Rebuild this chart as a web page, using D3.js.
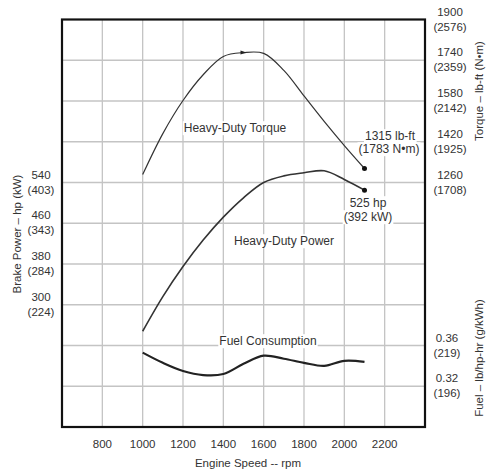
<!DOCTYPE html>
<html>
<head>
<meta charset="utf-8">
<script src="https://cdn.jsdelivr.net/npm/d3@7"></script>
<style>
  body { margin: 0; background: #fff; }
  text { font-family: "Liberation Sans", Arial, sans-serif; fill: #333; }
</style>
</head>
<body>
<svg width="487" height="472"></svg>
<script>
// Engine speed (rpm) sampled every 100 rpm
var rpm = [1000, 1100, 1200, 1300, 1400, 1500, 1600, 1700, 1800, 1900, 2000, 2100];
var torque = [1291, 1452, 1582, 1683, 1755, 1770, 1767, 1700, 1600, 1500, 1405, 1315];
var power = [248, 316, 375, 427, 472, 510, 540, 553, 559, 563, 546, 525];
var fuel = [0.353, 0.343, 0.335, 0.331, 0.332, 0.342, 0.350, 0.347, 0.343, 0.340, 0.345, 0.344];

// tick labels
var xTicks = [800, 1000, 1200, 1400, 1600, 1800, 2000, 2200];
var powerTicks = [540, 460, 380, 300];
var powerTicksKw = ['(403)', '(343)', '(284)', '(224)'];
var torqueTicks = [1900, 1740, 1580, 1420, 1260];
var torqueTicksNm = ['(2576)', '(2359)', '(2142)', '(1925)', '(1708)'];
var fuelTicks = [0.36, 0.32];
var fuelTicksG = ['(219)', '(196)'];

var pLeft = 62, pRight = 425, pTop = 19.5, pBottom = 427;

var svg = d3.select('svg');

var x = d3.scaleLinear().domain([600, 2400]).range([pLeft, pRight]);
var yPower = d3.scaleLinear().domain([60, 860]).range([pBottom, pTop]);
var yTorque = d3.scaleLinear().domain([300, 1900]).range([pBottom, pTop]);
var yFuel = d3.scaleLinear().domain([0.28, 0.68]).range([pBottom, pTop]);

// grid
var grid = svg.append('g').attr('stroke', '#c4c4c4').attr('stroke-width', 1.3);
grid.selectAll('.vg')
    .data(d3.range(800, 2400, 200))
    .enter().append('line')
    .attr('x1', d => x(d)).attr('x2', d => x(d))
    .attr('y1', pTop).attr('y2', pBottom);
grid.selectAll('.hg')
    .data(d3.range(1740, 300, -160))
    .enter().append('line')
    .attr('x1', pLeft).attr('x2', pRight)
    .attr('y1', d => yTorque(d)).attr('y2', d => yTorque(d));

// curves
var line = function(ys, yScale) {
    return d3.line()
        .x((d, i) => x(rpm[i]))
        .y(d => yScale(d))
        .curve(d3.curveCatmullRom.alpha(0.5))(ys);
};

svg.append('path')
    .attr('d', line(torque, yTorque))
    .attr('fill', 'none').attr('stroke', '#333').attr('stroke-width', 1.2);
svg.append('path')
    .attr('d', line(power, yPower))
    .attr('fill', 'none').attr('stroke', '#333').attr('stroke-width', 1.6);
svg.append('path')
    .attr('d', line(fuel, yFuel))
    .attr('fill', 'none').attr('stroke', '#222').attr('stroke-width', 2.2);

// end points and torque peak marker
svg.append('circle').attr('cx', x(2100)).attr('cy', yTorque(1315)).attr('r', 2.5).attr('fill', '#111');
svg.append('circle').attr('cx', x(2100)).attr('cy', yPower(525)).attr('r', 2.5).attr('fill', '#111');
svg.append('path')
    .attr('d', `M${x(1500) - 3},${yTorque(1770) - 2}L${x(1500) + 3},${yTorque(1770)}L${x(1500) - 3},${yTorque(1770) + 2}Z`)
    .attr('fill', '#222');

// labels with white backing
function label(txt, cx, cy, size) {
    var g = svg.append('g');
    var rect = g.append('rect').attr('fill', '#fff');
    var t = g.append('text')
        .attr('x', cx).attr('y', cy)
        .attr('text-anchor', 'middle')
        .attr('dy', '.35em')
        .attr('font-size', size)
        .text(txt);
    var b = t.node().getBBox();
    rect.attr('x', b.x - 1).attr('y', b.y).attr('width', b.width + 2).attr('height', b.height);
}

label('Heavy-Duty Torque', 235, 128, 12);
label('Heavy-Duty Power', 284, 241, 12);
label('Fuel Consumption', 268, 341, 12);
label('1315 lb-ft', 390, 136, 12);
label('(1783 N\u2022m)', 389, 149, 12);
label('525 hp', 368, 203, 12);
label('(392 kW)', 368, 217, 12);

// frame
svg.append('rect')
    .attr('x', pLeft).attr('y', pTop)
    .attr('width', pRight - pLeft).attr('height', pBottom - pTop)
    .attr('fill', 'none').attr('stroke', '#111').attr('stroke-width', 2.2);

// x axis labels
svg.selectAll('.xt')
    .data(xTicks)
    .enter().append('text')
    .attr('x', d => x(d)).attr('y', 448)
    .attr('text-anchor', 'middle').attr('font-size', 11.5)
    .text(d => d);
svg.append('text')
    .attr('x', 248).attr('y', 467)
    .attr('text-anchor', 'middle').attr('font-size', 11.5)
    .text('Engine Speed -- rpm');

// left axis: power
powerTicks.forEach(function(v, i) {
    svg.append('text').attr('x', 41).attr('y', yPower(v) - 4)
        .attr('text-anchor', 'middle').attr('font-size', 11.5).text(v);
    svg.append('text').attr('x', 41).attr('y', yPower(v) + 11)
        .attr('text-anchor', 'middle').attr('font-size', 11.5).text(powerTicksKw[i]);
});
svg.append('text')
    .attr('transform', 'translate(21,234) rotate(-90)')
    .attr('text-anchor', 'middle').attr('font-size', 11.5)
    .text('Brake Power \u2013 hp (kW)');

// right axis: torque
torqueTicks.forEach(function(v, i) {
    svg.append('text').attr('x', 450).attr('y', yTorque(v) - 4)
        .attr('text-anchor', 'middle').attr('font-size', 11.5).text(v);
    svg.append('text').attr('x', 450).attr('y', yTorque(v) + 11)
        .attr('text-anchor', 'middle').attr('font-size', 11.5).text(torqueTicksNm[i]);
});
svg.append('text')
    .attr('transform', 'translate(483,91) rotate(-90)')
    .attr('text-anchor', 'middle').attr('font-size', 11.5)
    .text('Torque \u2013 lb-ft (N\u2022m)');

// right axis: fuel
fuelTicks.forEach(function(v, i) {
    svg.append('text').attr('x', 447).attr('y', yFuel(v) - 4)
        .attr('text-anchor', 'middle').attr('font-size', 11.5).text(v.toFixed(2));
    svg.append('text').attr('x', 447).attr('y', yFuel(v) + 11)
        .attr('text-anchor', 'middle').attr('font-size', 11.5).text(fuelTicksG[i]);
});
svg.append('text')
    .attr('transform', 'translate(483,358) rotate(-90)')
    .attr('text-anchor', 'middle').attr('font-size', 11.5)
    .text('Fuel \u2013 lb/hp-hr (g/kWh)');
</script>
</body>
</html>
